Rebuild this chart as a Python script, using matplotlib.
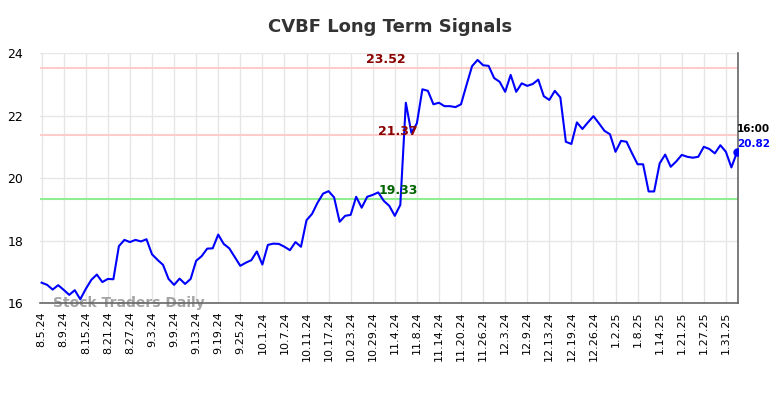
import numpy as np
import matplotlib.pyplot as plt

# closing prices, one per trading day from 8.5.24
prices = [16.65, 16.58, 16.43, 16.57, 16.42, 16.26, 16.41, 16.12, 16.45, 16.74,
          16.91, 16.67, 16.77, 16.76, 17.82, 18.02, 17.95, 18.02, 17.97, 18.04,
          17.56, 17.38, 17.22, 16.77, 16.58, 16.78, 16.61, 16.77, 17.35, 17.50,
          17.74, 17.75, 18.19, 17.89, 17.75, 17.47, 17.19, 17.29, 17.37, 17.65,
          17.23, 17.86, 17.90, 17.89, 17.80, 17.69, 17.95, 17.80, 18.65, 18.85,
          19.21, 19.50, 19.58, 19.38, 18.60, 18.79, 18.82, 19.40, 19.05, 19.40,
          19.46, 19.54, 19.27, 19.11, 18.79, 19.14, 22.41, 21.45, 21.75, 22.84,
          22.79, 22.36, 22.41, 22.30, 22.30, 22.27, 22.36, 22.98, 23.58, 23.78,
          23.61, 23.59, 23.20, 23.08, 22.76, 23.30, 22.76, 23.03, 22.95, 23.01,
          23.15, 22.62, 22.50, 22.79, 22.58, 21.16, 21.09, 21.78, 21.57, 21.78,
          21.98, 21.75, 21.51, 21.40, 20.84, 21.19, 21.16, 20.79, 20.44, 20.44,
          19.57, 19.57, 20.47, 20.75, 20.36, 20.53, 20.74, 20.68, 20.65, 20.68,
          21.00, 20.93, 20.79, 21.05, 20.84, 20.34, 20.82]

tick_labels = ["8.5.24", "8.9.24", "8.15.24", "8.21.24", "8.27.24", "9.3.24",
               "9.9.24", "9.13.24", "9.19.24", "9.25.24", "10.1.24", "10.7.24",
               "10.11.24", "10.17.24", "10.23.24", "10.29.24", "11.4.24", "11.8.24",
               "11.14.24", "11.20.24", "11.26.24", "12.3.24", "12.9.24", "12.13.24",
               "12.19.24", "12.26.24", "1.2.25", "1.8.25", "1.14.25", "1.21.25",
               "1.27.25", "1.31.25"]

resistance_hi = 23.52
resistance_lo = 21.37
support = 19.33
last_time = "16:00"

x = np.arange(len(prices))

fig = plt.figure(figsize=(7.84, 3.98), dpi=100)
ax = fig.add_axes([0.051, 0.2387, 0.890, 0.628])

ax.plot(x, prices, color="#0000ff", lw=1.5, zorder=3)
ax.plot(x[-1], prices[-1], "o", color="#0000ff", ms=5, zorder=4)

ax.axhline(resistance_hi, color="#ffcccc", lw=1.5, zorder=2)
ax.axhline(resistance_lo, color="#ffcccc", lw=1.5, zorder=2)
ax.axhline(support, color="#90ee90", lw=1.5, zorder=2)

ax.text(62.3, resistance_hi + 0.06, f"{resistance_hi:.2f}", color="#8b0000",
        fontsize=9, fontweight="bold", ha="center", va="bottom")
ax.text(64.5, resistance_lo - 0.1, f"{resistance_lo:.2f}", color="#8b0000",
        fontsize=9, fontweight="bold", ha="center", va="bottom")
ax.text(64.7, support + 0.05, f"{support:.2f}", color="#006400",
        fontsize=9, fontweight="bold", ha="center", va="bottom")

ax.text(len(prices) + 2.0, prices[-1] + 0.75, last_time, color="black",
        fontsize=7.5, fontweight="bold", ha="center", va="center", clip_on=False)
ax.text(len(prices) + 2.0, prices[-1] + 0.27, f"{prices[-1]:.2f}", color="#0000ff",
        fontsize=7.5, fontweight="bold", ha="center", va="center", clip_on=False)

ax.text(2, 16.0, "Stock Traders Daily", color="#999999", fontsize=10,
        fontweight="bold", ha="left", va="center", alpha=0.9, zorder=1)

ax.set_xlim(-0.3, len(prices) - 0.85)
ax.set_ylim(16, 24)
ax.set_yticks([16, 18, 20, 22, 24])
ax.set_xticks(x[::4])
ax.set_xticklabels(tick_labels, rotation=90, fontsize=8)
ax.tick_params(axis="x", length=0, pad=6)
ax.tick_params(axis="y", length=0, labelsize=9, pad=12)

ax.grid(True, color="#e6e6e6", lw=1)
ax.set_axisbelow(True)
for s in ["left", "top"]:
    ax.spines[s].set_visible(False)
for s in ["bottom", "right"]:
    ax.spines[s].set_color("#666666")
    ax.spines[s].set_linewidth(1.2)

fig.suptitle("CVBF Long Term Signals", x=0.497, y=0.955, fontsize=13,
             fontweight="bold", color="#333333")

fig.savefig("out.png", dpi=100)
